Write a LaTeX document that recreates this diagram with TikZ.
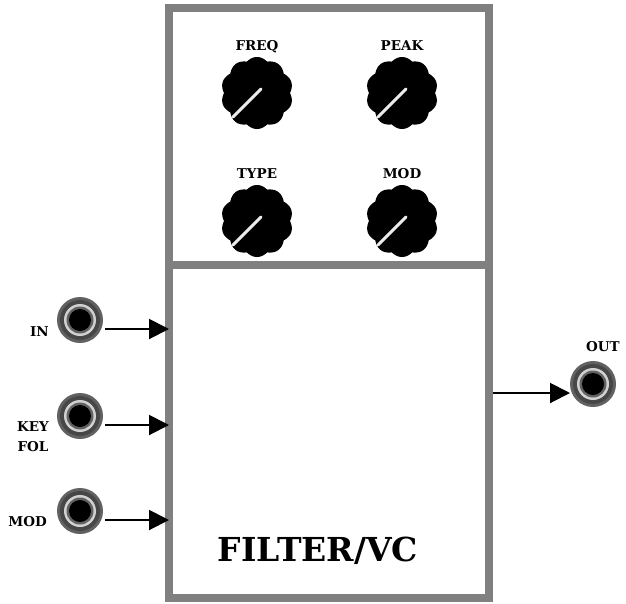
\documentclass[tikz,border=0pt]{standalone}
\usepackage{fontspec}
\setmainfont{DejaVu Serif}
\usetikzlibrary{arrows.meta}
\definecolor{panelgray}{RGB}{128,128,128}
\tikzset{
  panel/.style={draw=panelgray, line width=8pt, outer sep=0pt, inner sep=0pt},
  lbl/.style={font=\fontsize{13.5}{15}\selectfont\bfseries, inner sep=0pt},
  jack/.style={circle, minimum size=46pt, inner sep=0pt, outer sep=0pt, fill=black!62,
    path picture={
      \fill[black!72] (path picture bounding box.center) circle (20pt);
      \fill[black!18] (path picture bounding box.center) circle (16pt);
      \fill[black!62] (path picture bounding box.center) circle (13.5pt);
      \fill[black] (path picture bounding box.center) circle (11pt);
    }},
  knobarea/.style={circle, minimum size=72pt, inner sep=0pt},
  arr/.style={line width=2pt, -{Triangle[length=20pt,width=20pt]}},
}
\newcommand{\myknob}[4]{%
  \node[knobarea] (#1) at (#2,#3) {};
  \fill[shift={(#2,#3)}] plot[domain=0:359.5, samples=720, variable=\t]
    ({(33+3*abs(cos(5*(\t-90))))*cos(\t)},{(33+3*abs(cos(5*(\t-90))))*sin(\t)}) -- cycle;
  \draw[white!92!black, line width=3pt, line cap=round] (#2-24,#3+24) -- (#2+4,#3-4);
  \node[lbl, anchor=base] (#1-l) at (#2,#3-43) {#4};
}
\begin{document}
\begin{tikzpicture}[x=1pt,y=-1pt]
\useasboundingbox (0,0) rectangle (626,603);
% panels
\node[panel, minimum width=320pt, minimum height=256.5pt] (top) at (329,136.25) {};
\node[panel, minimum width=320pt, minimum height=333pt] (filt) at (329,431) {};
\node[font=\fontsize{33}{36}\selectfont\bfseries, inner sep=0pt] (title) at (318,551) {FILTER/VC};
% knobs
\myknob{freq}{257}{93}{FREQ}
\myknob{peak}{402}{93}{PEAK}
\myknob{type}{257}{221}{TYPE}
\myknob{kmod}{402}{221}{MOD}
% jacks
\node[jack] (in) at (80,320) {};
\node[jack] (key) at (80,416) {};
\node[jack] (mod) at (80,511) {};
\node[jack] (out) at (593,384) {};
% jack labels
\node[lbl, anchor=base east] (inl) at (49,336) {IN};
\node[lbl, anchor=base] (keyl) at (33,431) {KEY};
\node[lbl, anchor=base] (foll) at (33,451) {FOL};
\node[lbl, anchor=base east] (modl) at (47,526) {MOD};
\node[lbl, anchor=base] (outl) at (603,351) {OUT};
% connectors
\path ([yshift=-9pt,xshift=2pt]in.east) coordinate (inA);
\path ([yshift=-9pt,xshift=2pt]key.east) coordinate (keyA);
\path ([yshift=-9pt,xshift=2pt]mod.east) coordinate (modA);
\draw[arr] (inA) -- (inA -| filt.west);
\draw[arr] (keyA) -- (keyA -| filt.west);
\draw[arr] (modA) -- (modA -| filt.west);
\path ([yshift=-9pt,xshift=4pt]filt.east |- out) coordinate (outA);
\draw[arr] (outA) -- (outA -| out.west);
\end{tikzpicture}
\end{document}
